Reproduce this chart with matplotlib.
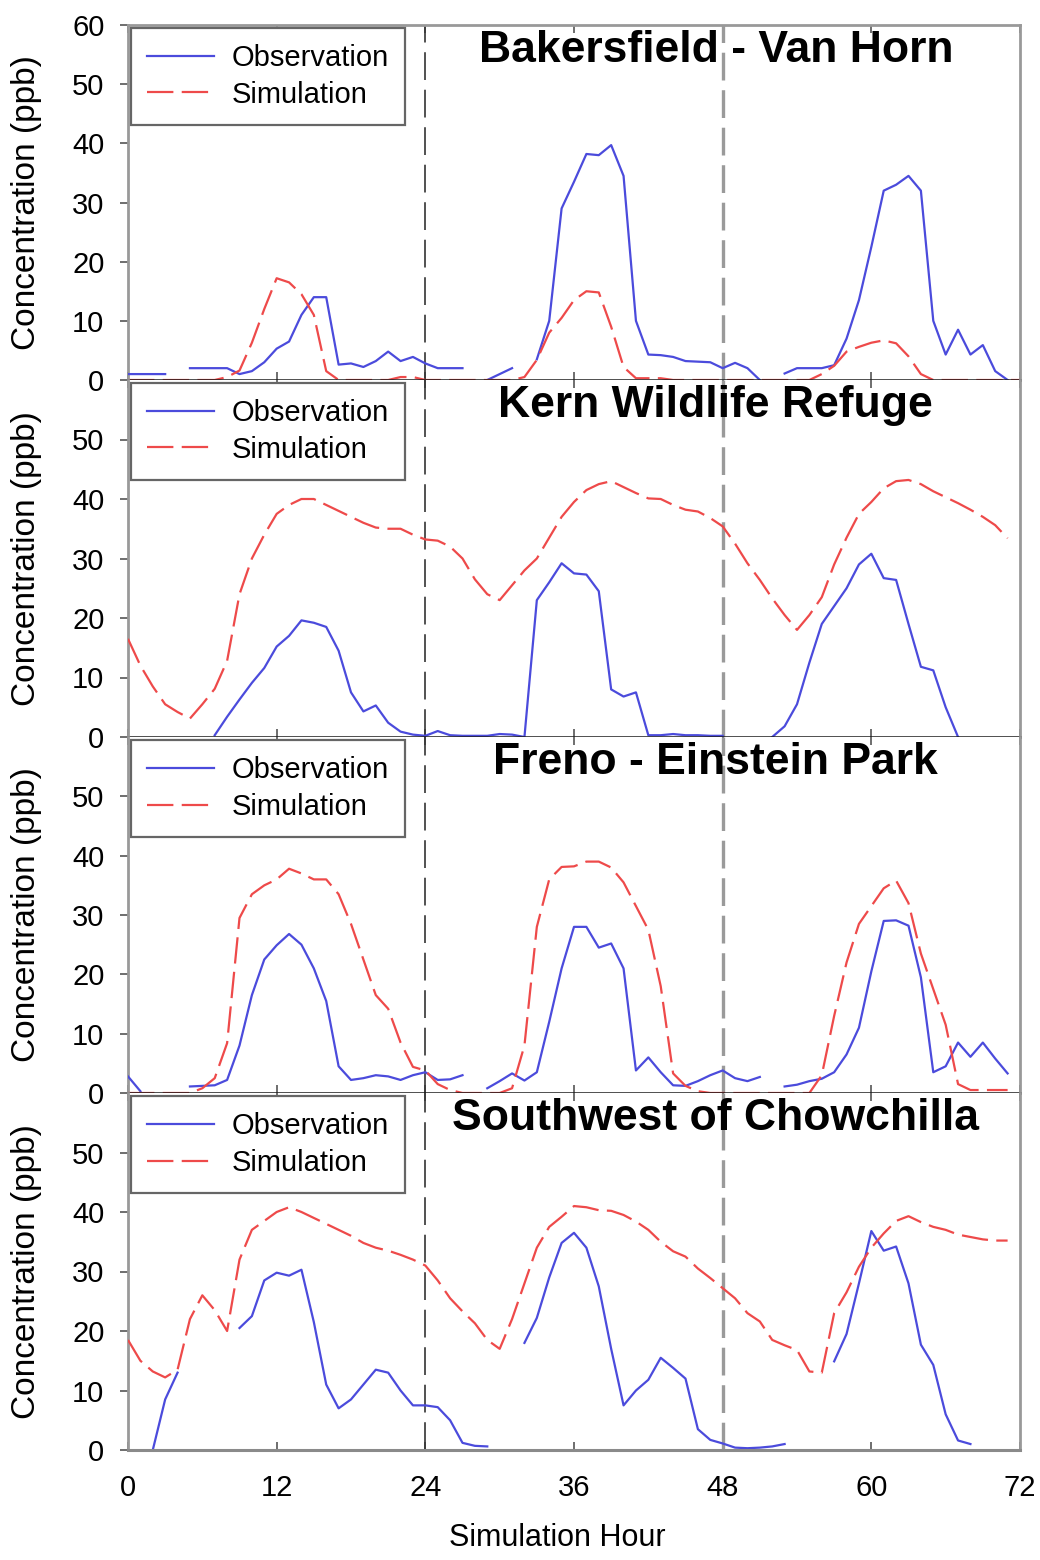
import numpy as np
import matplotlib
matplotlib.use("Agg")
import matplotlib.pyplot as plt

nan = float("nan")
plt.rcParams['font.family'] = ['Liberation Sans', 'DejaVu Sans']
plt.rcParams['lines.scale_dashes'] = False

hours = list(range(73))
x_ticks = [0, 12, 24, 36, 48, 60, 72]
titles = ["Bakersfield - Van Horn", "Kern Wildlife Refuge",
          "Freno - Einstein Park", "Southwest of Chowchilla"]
legend_labels = ["Observation", "Simulation"]
y_label = "Concentration (ppb)"
x_label = "Simulation Hour"

bak_obs = [1, 1, 1, 1, nan, 2, 2, 2, 2, 1.0, 1.5, 3.0,
           5.3, 6.5, 11, 14, 14, 2.6, 2.8, 2.2, 3.2, 4.8, 3.2, 3.9,
           2.8, 2.0, 2.0, 2.0, nan, 0, 1.0, 2.0, nan, 3.5, 10, 29,
           33.5, 38.2, 38, 39.7, 34.5, 10, 4.3, 4.2, 3.9, 3.2, 3.1, 3.0,
           2.0, 2.9, 2.0, 0, nan, 1.1, 2.0, 2.0, 2.0, 2.5, 7, 13.5,
           22.5, 32, 33, 34.5, 32, 10, 4.3, 8.5, 4.3, 5.9, 1.5, 0,
           nan]
bak_sim = [0, 0, 0, 0, 0, 0, 0, 0, 0.5, 1.6, 6.3, 12,
           17.2, 16.5, 14.5, 11, 1.5, 0, 0, 0, 0, 0, 0.5, 0.5,
           0, 0, 0, 0, 0, 0, 0, 0, 0.5, 3.4, 8, 10.5,
           13.5, 15, 14.8, 9, 2.2, 0.3, 0.3, 0.3, 0, 0, 0, 0,
           0, 0, 0, 0, 0, 0, 0, 0, 1.0, 2.4, 4.8, 5.6,
           6.3, 6.7, 6.2, 4.0, 1.0, 0, 0, 0, 0, 0, 0, 0,
           0]
kern_obs = [nan, nan, nan, nan, nan, nan, nan, 0.3, 3.4, 6.3, 9.1, 11.6,
            15.2, 17, 19.6, 19.2, 18.5, 14.5, 7.5, 4.3, 5.3, 2.4, 0.9, 0.4,
            0.2, 1.0, 0.3, 0.2, 0.2, 0.2, 0.5, 0.4, 0, 23, 26, 29.2,
            27.5, 27.3, 24.5, 8, 6.8, 7.5, 0.3, 0.3, 0.5, 0.3, 0.3, 0.2,
            0.2, nan, nan, nan, 0, 1.8, 5.5, 12.5, 19, 22, 25, 29,
            30.8, 26.7, 26.4, 19, 11.8, 11.2, 5, 0, nan, nan, nan, nan,
            nan]
kern_sim = [16.5, 12, 8.5, 5.5, 4.2, 3.1, 5.5, 8.1, 12.8, 24, 30, 34,
            37.5, 39, 40, 40, 39, 38, 37, 36, 35.2, 35, 35, 34,
            33.2, 33, 32, 30, 26.5, 24, 23, 25.5, 28, 30, 33.5, 37,
            39.5, 41.5, 42.5, 43, 42, 41, 40.1, 40, 39, 38.2, 37.9, 36.8,
            35.4, 32.5, 29.2, 26.4, 23.3, 20.5, 18, 20.5, 23.5, 29, 33.5, 37.5,
            39.5, 41.8, 43, 43.2, 42.5, 41.3, 40.3, 39.3, 38.2, 37, 35.6, 33.4,
            nan]
fres_obs = [2.8, 0.3, nan, nan, nan, 1.1, 1.2, 1.3, 2.2, 8, 16.5, 22.5,
            24.9, 26.8, 25, 21, 15.5, 4.5, 2.2, 2.5, 3.0, 2.8, 2.2, 3.0,
            3.5, 2.2, 2.3, 3.0, nan, 0.8, 2.0, 3.3, 2.1, 3.5, 12, 21,
            28, 28, 24.5, 25.2, 21, 3.8, 6, 3.5, 1.3, 1.2, 2.0, 3.0,
            3.8, 2.5, 2.0, 2.7, nan, 1.1, 1.4, 2.0, 2.4, 3.5, 6.5, 11,
            20.5, 29, 29.1, 28.2, 19.5, 3.5, 4.5, 8.5, 6.1, 8.5, 5.8, 3.3,
            nan]
fres_sim = [0, 0, 0, 0, 0, 0, 0.8, 2.5, 8.4, 29.5, 33.5, 35,
            36, 37.8, 37, 36, 36, 33.5, 28.5, 22.5, 16.5, 14.2, 8.5, 4.4,
            3.8, 1.5, 0.5, 0, 0, 0, 0, 0.8, 8, 28, 36, 38.1,
            38.2, 39, 39, 38, 35.5, 31.5, 27.5, 18, 3.3, 1.2, 0.3, 0,
            0, 0, 0, 0, 0, 0, 0, 0, 3, 13, 22, 28.5,
            31.5, 34.5, 35.8, 32, 23.5, 17.5, 11.5, 1.5, 0.5, 0.5, 0.5, 0.5,
            nan]
chow_obs = [nan, nan, 0, 8.5, 13, nan, nan, nan, nan, 20.5, 22.5, 28.5,
            29.8, 29.3, 30.3, 21.5, 11, 7, 8.5, 11, 13.5, 13, 10, 7.5,
            7.5, 7.2, 5, 1.2, 0.7, 0.6, nan, nan, 18, 22.2, 29, 34.8,
            36.5, 34, 27.5, 17, 7.5, 10, 11.8, 15.5, 13.8, 12, 3.5, 1.7,
            1.1, 0.4, 0.3, 0.4, 0.6, 1.0, nan, nan, nan, 14.9, 19.5, 28,
            36.8, 33.5, 34.2, 28, 17.7, 14.3, 6, 1.6, 1.0, nan, nan, nan,
            nan]
chow_sim = [18.5, 15, 13.2, 12.2, 13.5, 22, 26, 23.5, 20, 32, 37, 38.5,
            40, 40.8, 40, 39, 38, 37, 36, 34.8, 34, 33.5, 32.8, 32,
            31, 28.5, 25.5, 23.3, 21.3, 18.5, 17, 22, 28, 34, 37.5, 39.2,
            41, 40.8, 40.3, 40.2, 39.5, 38.4, 37, 35, 33.4, 32.5, 30.5, 28.9,
            27.2, 25.5, 23, 21.6, 18.5, 17.6, 16.8, 13.2, 13, 23, 26.5, 30.8,
            34, 36.4, 38.5, 39.3, 38.3, 37.5, 37, 36.2, 35.8, 35.4, 35.2, 35.2,
            nan]

obs_series = [bak_obs, kern_obs, fres_obs, chow_obs]
sim_series = [bak_sim, kern_sim, fres_sim, chow_sim]

W, H = 1040, 1560
fig = plt.figure(figsize=(W / 100, H / 100), dpi=100)
left_px, right_px = 128, 1020
edges = [25, 380, 737, 1093, 1450]

obs_color = '#4b4bdc'
sim_color = '#ee4a4a'

axes = []
for i in range(4):
    top, bot = edges[i], edges[i + 1]
    ax = fig.add_axes([left_px / W, 1 - bot / H, (right_px - left_px) / W, (bot - top) / H])
    axes.append(ax)
    ax.plot(hours, obs_series[i], color=obs_color, lw=1.6, label=legend_labels[0], zorder=3)
    ax.plot(hours, sim_series[i], color=sim_color, lw=1.6, label=legend_labels[1],
            dashes=(19, 6), zorder=3)
    ax.axvline(24, color='#333333', lw=1.2, dashes=(20, 7), zorder=2)
    ax.axvline(48, color='#9a9a9a', lw=2.4, dashes=(20, 7), zorder=2)
    ax.set_xlim(0, 72)
    ax.set_ylim(0, 60)
    ax.set_xticks(x_ticks)
    if i == 0:
        ax.set_yticks([0, 10, 20, 30, 40, 50, 60])
    else:
        ax.set_yticks([0, 10, 20, 30, 40, 50])
    ax.tick_params(axis='y', direction='out', length=6, width=1.2, color='#555555',
                   labelsize=21, pad=11)
    ax.tick_params(axis='x', direction='in', length=6, width=1.2, color='#555555',
                   top=True, bottom=True, labelsize=21, pad=17,
                   labelbottom=(i == 3))
    for s in ['left', 'right', 'top']:
        ax.spines[s].set_color('#999999')
        ax.spines[s].set_linewidth(2.0)
    if i > 0:
        ax.spines['top'].set_visible(False)
    if i < 3:
        ax.spines['bottom'].set_color('#1a1a1a')
        ax.spines['bottom'].set_linewidth(1.8)
    else:
        ax.spines['bottom'].set_color('#8a8a8a')
        ax.spines['bottom'].set_linewidth(2.2)
    ax.spines['bottom'].set_zorder(4)
    ax.set_ylabel(y_label, fontsize=24)
    ax.yaxis.set_label_coords(-0.096, 0.5)
    ax.text(0.659, 1 - 37 / (bot - top), titles[i], transform=ax.transAxes,
            ha='center', va='baseline', fontsize=32, fontweight='bold', zorder=5)
    leg = ax.legend(loc='upper left', fontsize=21, frameon=True, fancybox=False,
                    borderaxespad=0.1, handlelength=2.3, handletextpad=0.6,
                    borderpad=0.55, labelspacing=0.3, framealpha=1)
    leg.get_frame().set_edgecolor('#666666')
    leg.get_frame().set_linewidth(1.6)
    leg.set_zorder(6)

axes[3].set_xlabel(x_label, fontsize=22)
axes[3].xaxis.set_label_coords(0.481, -0.205)

fig.savefig('out.png', dpi=100)
